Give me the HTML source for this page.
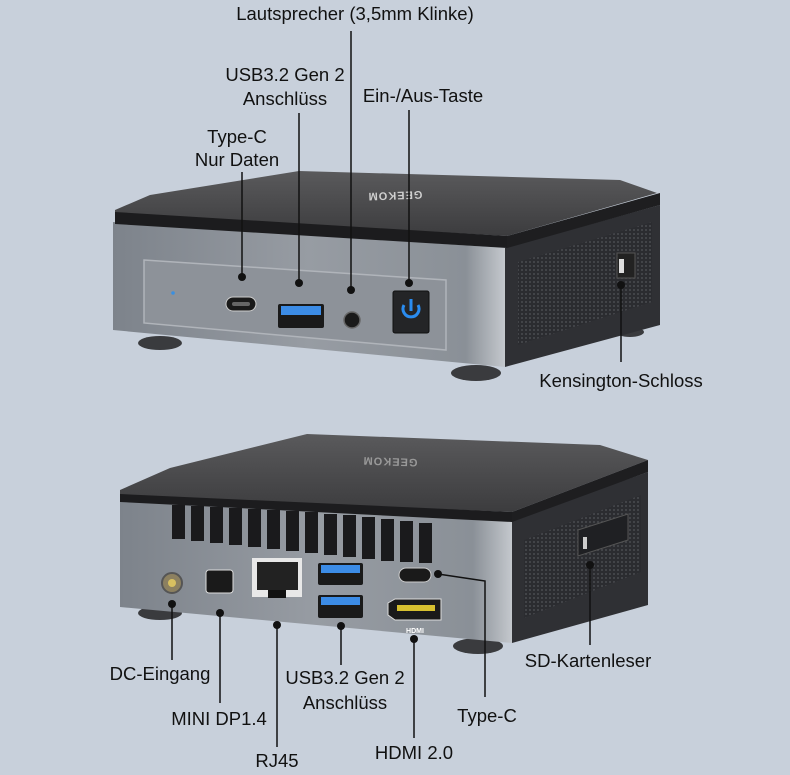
<!DOCTYPE html>
<html><head><meta charset="utf-8"><style>
html,body{margin:0;padding:0;background:#c8d0db;}
svg{display:block}
text{font-family:"Liberation Sans",sans-serif;font-size:18.5px;fill:#111;}
</style></head><body>
<svg width="790" height="775" viewBox="0 0 790 775" xmlns="http://www.w3.org/2000/svg">
<defs>
<linearGradient id="silv" x1="0" y1="0" x2="1" y2="0">
<stop offset="0" stop-color="#7d838b"/><stop offset="0.5" stop-color="#979ca3"/><stop offset="0.9" stop-color="#8a9097"/><stop offset="1" stop-color="#c4c8cd"/>
</linearGradient>
<linearGradient id="lid" x1="0" y1="0" x2="0" y2="1">
<stop offset="0" stop-color="#5a5a5c"/><stop offset="1" stop-color="#3c3c3e"/>
</linearGradient>
<pattern id="mesh" width="4" height="4" patternUnits="userSpaceOnUse">
<rect width="4" height="4" fill="#2b2c30"/><circle cx="2" cy="2" r="1" fill="#4a4b50"/>
</pattern>
</defs>

<!-- ===== TOP DEVICE ===== -->
<ellipse cx="160" cy="343" rx="22" ry="7" fill="#3a3b3e"/>
<ellipse cx="476" cy="373" rx="25" ry="8" fill="#3a3b3e"/>
<ellipse cx="630" cy="332" rx="14" ry="5" fill="#3a3b3e"/>
<!-- side -->
<polygon points="505,248 660,205 660,325 505,367" fill="#2f3034"/>
<polygon points="518,262 652,222 652,302 518,345" fill="url(#mesh)"/>
<rect x="617" y="253" width="18" height="25" fill="#222" stroke="#555" stroke-width="1"/>
<rect x="619" y="259" width="5" height="14" fill="#ddd"/>
<!-- front -->
<polygon points="113,222 505,248 505,367 113,330" fill="url(#silv)"/>
<polygon points="144,260 446,280 446,350 144,323" fill="#8d9299" stroke="#b0b4ba" stroke-width="1.5"/>
<!-- lid -->
<polygon points="115,210 150,195 299,171 620,180 657,193 507,236 115,214" fill="url(#lid)"/>
<polygon points="115,212 507,236 507,248 115,224" fill="#1c1c1e"/>
<polygon points="507,236 660,193 660,205 507,248" fill="#1e1e20"/>
<text x="395" y="200" transform="rotate(178 395 196)" style="font-size:11px;fill:#cfcfcf;font-weight:bold;letter-spacing:1px" text-anchor="middle">GEEKOM</text>
<!-- ports top -->
<circle cx="173" cy="293" r="1.8" fill="#3a8fe0"/>
<rect x="226" y="297" width="30" height="14" rx="7" fill="#1a1a1a" stroke="#ccc" stroke-width="1"/>
<rect x="232" y="302" width="18" height="4" rx="2" fill="#666"/>
<rect x="278" y="304" width="46" height="24" rx="2" fill="#1a1a1a"/>
<rect x="281" y="306" width="40" height="9" fill="#3c8ce6"/>
<circle cx="352" cy="320" r="8" fill="#1a1a1a" stroke="#666" stroke-width="1.5"/>
<rect x="393" y="291" width="36" height="42" rx="2" fill="#242527" stroke="#111"/>
<path d="M404 305 A8 8 0 1 0 418 305" fill="none" stroke="#2a8cf0" stroke-width="3"/>
<line x1="411" y1="299" x2="411" y2="311" stroke="#2a8cf0" stroke-width="3"/>

<!-- top labels -->
<g stroke="#111" stroke-width="1.5">
<line x1="242" y1="172" x2="242" y2="277"/>
<line x1="299" y1="113" x2="299" y2="283"/>
<line x1="351" y1="31" x2="351" y2="290"/>
<line x1="409" y1="110" x2="409" y2="283"/>
<line x1="621" y1="285" x2="621" y2="362"/>
</g>
<g fill="#111">
<circle cx="242" cy="277" r="4"/><circle cx="299" cy="283" r="4"/><circle cx="351" cy="290" r="4"/><circle cx="409" cy="283" r="4"/><circle cx="621" cy="285" r="4"/>
</g>
<text x="355" y="20" text-anchor="middle">Lautsprecher (3,5mm Klinke)</text>
<text x="285" y="81" text-anchor="middle">USB3.2 Gen 2</text>
<text x="285" y="105" text-anchor="middle">Anschlüss</text>
<text x="423" y="102" text-anchor="middle">Ein-/Aus-Taste</text>
<text x="237" y="143" text-anchor="middle">Type-C</text>
<text x="237" y="166" text-anchor="middle">Nur Daten</text>
<text x="621" y="387" text-anchor="middle">Kensington-Schloss</text>

<!-- ===== BOTTOM DEVICE ===== -->
<ellipse cx="160" cy="613" rx="22" ry="7" fill="#3a3b3e"/>
<ellipse cx="478" cy="646" rx="25" ry="8" fill="#3a3b3e"/>
<polygon points="512,520 648,472 648,605 512,643" fill="#2f3034"/>
<polygon points="524,540 641,495 641,572 524,618" fill="url(#mesh)"/>
<polygon points="578,530 628,514 628,540 578,556" fill="#1f2023" stroke="#555"/>
<rect x="583" y="537" width="4" height="12" fill="#ccc"/>
<polygon points="120,500 512,520 512,643 120,607" fill="url(#silv)"/>
<polygon points="120,490 170,468 307,434 600,445 648,460 512,512 120,496" fill="url(#lid)"/>
<polygon points="120,494 512,512 512,522 120,502" fill="#1c1c1e"/>
<polygon points="512,512 648,460 648,472 512,522" fill="#1e1e20"/>
<text x="390" y="466" transform="rotate(182 390 462)" style="font-size:11px;fill:#999;font-weight:bold;letter-spacing:1px" text-anchor="middle">GEEKOM</text>
<!-- vents -->
<g fill="#1a1a1c">
<rect x="172" y="505" width="13" height="34"/><rect x="191" y="506" width="13" height="35"/><rect x="210" y="507" width="13" height="36"/><rect x="229" y="508" width="13" height="37"/><rect x="248" y="509" width="13" height="38"/><rect x="267" y="510" width="13" height="39"/><rect x="286" y="511" width="13" height="40"/><rect x="305" y="512" width="13" height="41"/><rect x="324" y="514" width="13" height="41"/><rect x="343" y="515" width="13" height="42"/><rect x="362" y="517" width="13" height="42"/><rect x="381" y="519" width="13" height="42"/><rect x="400" y="521" width="13" height="41"/><rect x="419" y="523" width="13" height="40"/>
</g>
<!-- ports bottom -->
<circle cx="172" cy="583" r="10" fill="#8c8060" stroke="#555" stroke-width="2"/>
<circle cx="172" cy="583" r="4" fill="#d8c060"/>
<rect x="206" y="570" width="27" height="23" rx="3" fill="#1a1a1a" stroke="#ddd"/>
<rect x="252" y="558" width="50" height="39" fill="#e8e8e8"/>
<rect x="257" y="562" width="41" height="28" fill="#222"/>
<rect x="268" y="590" width="18" height="8" fill="#111"/>
<rect x="318" y="563" width="45" height="22" rx="2" fill="#1a1a1a"/>
<rect x="321" y="565" width="39" height="8" fill="#3c8ce6"/>
<rect x="318" y="595" width="45" height="23" rx="2" fill="#1a1a1a"/>
<rect x="321" y="597" width="39" height="8" fill="#3c8ce6"/>
<rect x="399" y="568" width="32" height="14" rx="7" fill="#1a1a1a" stroke="#ccc"/>
<polygon points="388,603 395,599 441,599 441,620 395,620 388,615" fill="#1a1a1a" stroke="#ddd"/>
<rect x="397" y="605" width="38" height="6" fill="#d6c030"/>
<text x="415" y="633" text-anchor="middle" style="font-size:7px;fill:#fff;font-weight:bold">HDMI</text>

<g stroke="#111" stroke-width="1.5" fill="none">
<line x1="172" y1="604" x2="172" y2="660"/>
<line x1="220" y1="613" x2="220" y2="703"/>
<line x1="277" y1="625" x2="277" y2="747"/>
<line x1="341" y1="626" x2="341" y2="665"/>
<line x1="414" y1="639" x2="414" y2="738"/>
<polyline points="438,574 485,581 485,697"/>
<line x1="590" y1="565" x2="590" y2="645"/>
</g>
<g fill="#111">
<circle cx="172" cy="604" r="4"/><circle cx="220" cy="613" r="4"/><circle cx="277" cy="625" r="4"/><circle cx="341" cy="626" r="4"/><circle cx="414" cy="639" r="4"/><circle cx="438" cy="574" r="4"/><circle cx="590" cy="565" r="4"/>
</g>
<text x="160" y="680" text-anchor="middle">DC-Eingang</text>
<text x="219" y="725" text-anchor="middle">MINI DP1.4</text>
<text x="277" y="767" text-anchor="middle">RJ45</text>
<text x="345" y="684" text-anchor="middle">USB3.2 Gen 2</text>
<text x="345" y="709" text-anchor="middle">Anschlüss</text>
<text x="414" y="759" text-anchor="middle">HDMI 2.0</text>
<text x="487" y="722" text-anchor="middle">Type-C</text>
<text x="588" y="667" text-anchor="middle">SD-Kartenleser</text>
</svg>
</body></html>
